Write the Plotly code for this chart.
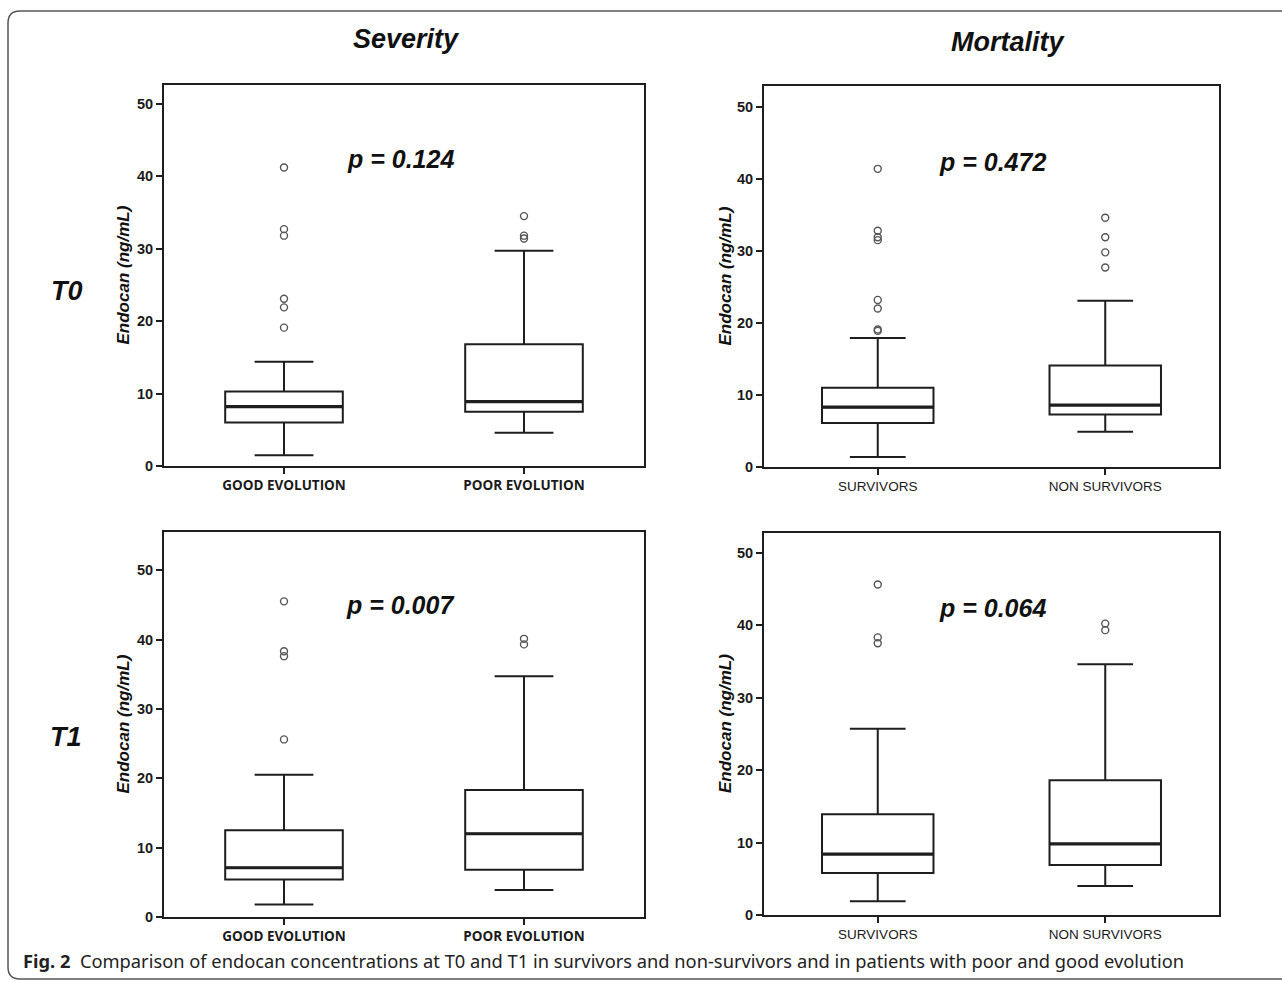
import plotly.graph_objects as go

W, H = 1282, 981          # reference pixel grid
FIG_H = 989               # rendered height (capture compresses vertically by ~981/989)

# ---------------- data ----------------
sev_cats = ["GOOD EVOLUTION", "POOR EVOLUTION"]
mort_cats = ["SURVIVORS", "NON SURVIVORS"]

# T0 - Severity
t0_sev_q1 = [6.0, 7.5]
t0_sev_median = [8.2, 8.9]
t0_sev_q3 = [10.3, 16.8]
t0_sev_low = [1.5, 4.6]
t0_sev_high = [14.4, 29.7]
t0_sev_out_good = [41.2, 32.7, 31.8, 23.1, 21.9, 19.1]
t0_sev_out_poor = [34.5, 31.8, 31.4]

# T0 - Mortality
t0_mort_q1 = [6.1, 7.3]
t0_mort_median = [8.3, 8.6]
t0_mort_q3 = [11.0, 14.1]
t0_mort_low = [1.4, 4.9]
t0_mort_high = [17.9, 23.1]
t0_mort_out_surv = [41.4, 32.8, 31.9, 31.5, 23.2, 22.0, 19.1, 18.9]
t0_mort_out_nonsurv = [34.6, 31.9, 29.8, 27.7]

# T1 - Severity
t1_sev_q1 = [5.4, 6.8]
t1_sev_median = [7.1, 12.0]
t1_sev_q3 = [12.5, 18.3]
t1_sev_low = [1.8, 3.9]
t1_sev_high = [20.5, 34.7]
t1_sev_out_good = [45.5, 38.3, 37.6, 25.6]
t1_sev_out_poor = [40.1, 39.3]

# T1 - Mortality
t1_mort_q1 = [5.8, 6.9]
t1_mort_median = [8.4, 9.8]
t1_mort_q3 = [13.9, 18.6]
t1_mort_low = [1.9, 4.0]
t1_mort_high = [25.7, 34.6]
t1_mort_out_surv = [45.6, 38.3, 37.5]
t1_mort_out_nonsurv = [40.2, 39.3]

p_values = ["p = 0.124", "p = 0.472", "p = 0.007", "p = 0.064"]
y_ticks = [0, 10, 20, 30, 40, 50]

# ---------------- helpers ----------------
def px(x):
    return x / W

def py(y):
    return 1 - y / H

LINE = "#1e1e1e"
BOXW = 0.49

panels = [
    dict(cats=sev_cats, q1=t0_sev_q1, med=t0_sev_median, q3=t0_sev_q3,
         lo=t0_sev_low, hi=t0_sev_high, outs=[t0_sev_out_good, t0_sev_out_poor],
         xdom=(164, 644), ydom=(85, 466), ymax=52.6, pv=p_values[0],
         pxy=(400, 159), ytx=123, xfont="left"),
    dict(cats=mort_cats, q1=t0_mort_q1, med=t0_mort_median, q3=t0_mort_q3,
         lo=t0_mort_low, hi=t0_mort_high, outs=[t0_mort_out_surv, t0_mort_out_nonsurv],
         xdom=(764, 1219), ydom=(86, 467), ymax=52.9, pv=p_values[1],
         pxy=(992, 162), ytx=725, xfont="right"),
    dict(cats=sev_cats, q1=t1_sev_q1, med=t1_sev_median, q3=t1_sev_q3,
         lo=t1_sev_low, hi=t1_sev_high, outs=[t1_sev_out_good, t1_sev_out_poor],
         xdom=(164, 644), ydom=(532, 917), ymax=55.5, pv=p_values[2],
         pxy=(400, 605), ytx=123, xfont="left"),
    dict(cats=mort_cats, q1=t1_mort_q1, med=t1_mort_median, q3=t1_mort_q3,
         lo=t1_mort_low, hi=t1_mort_high, outs=[t1_mort_out_surv, t1_mort_out_nonsurv],
         xdom=(764, 1219), ydom=(533, 915), ymax=52.7, pv=p_values[3],
         pxy=(992, 608), ytx=725, xfont="right"),
]

fig = go.Figure()
annotations = []
layout_axes = {}

for k, p in enumerate(panels):
    n = k + 1
    xa = "x" if n == 1 else f"x{n}"
    ya = "y" if n == 1 else f"y{n}"
    for i in range(len(p["cats"])):
        fig.add_trace(go.Box(
            x=[i], q1=[p["q1"][i]], median=[p["med"][i]], q3=[p["q3"][i]],
            lowerfence=[p["lo"][i]], upperfence=[p["hi"][i]],
            width=BOXW, whiskerwidth=0.5, boxpoints=False,
            fillcolor="white", line=dict(color=LINE, width=2),
            xaxis=xa, yaxis=ya, hoverinfo="skip",
        ))
        # thicker median line
        fig.add_trace(go.Scatter(
            x=[i - BOXW / 2, i + BOXW / 2], y=[p["med"][i], p["med"][i]],
            mode="lines", line=dict(color=LINE, width=3.2),
            xaxis=xa, yaxis=ya, hoverinfo="skip",
        ))
        outs = p["outs"][i]
        fig.add_trace(go.Scatter(
            x=[i] * len(outs), y=outs, mode="markers",
            marker=dict(symbol="circle-open", size=7, color="#555555",
                        line=dict(width=1.4, color="#555555")),
            xaxis=xa, yaxis=ya, hoverinfo="skip",
        ))

    if p["xfont"] == "left":
        xtf = dict(family="Open Sans", size=13.5, color="#1a1a1a", weight="bold")
    else:
        xtf = dict(family="Liberation Sans", size=13.5, color="#1a1a1a")

    xkey = "xaxis" if n == 1 else f"xaxis{n}"
    ykey = "yaxis" if n == 1 else f"yaxis{n}"
    layout_axes[xkey] = dict(
        domain=[px(p["xdom"][0]), px(p["xdom"][1])],
        anchor=ya, range=[-0.5, 1.5],
        tickmode="array", tickvals=[0, 1], ticktext=p["cats"],
        ticks="outside", ticklen=6, tickwidth=1.5, tickcolor=LINE,
        showline=True, mirror=True, linecolor=LINE, linewidth=2,
        showgrid=False, zeroline=False, tickfont=xtf, fixedrange=True,
    )
    layout_axes[ykey] = dict(
        domain=[py(p["ydom"][1]), py(p["ydom"][0])],
        anchor=xa, range=[0, p["ymax"]],
        tickmode="array", tickvals=y_ticks,
        ticks="outside", ticklen=6, tickwidth=1.5, tickcolor=LINE,
        showline=True, mirror=True, linecolor=LINE, linewidth=2,
        showgrid=False, zeroline=False, fixedrange=True,
        tickfont=dict(family="Liberation Sans", size=14.5, color="#1a1a1a", weight="bold"),
    )

    annotations.append(dict(
        text=p["pv"], x=px(p["pxy"][0]), y=py(p["pxy"][1]),
        xref="paper", yref="paper", xanchor="center", yanchor="middle",
        showarrow=False,
        font=dict(family="Liberation Sans", size=25, color="#111", weight="bold", style="italic"),
    ))
    annotations.append(dict(
        text="Endocan (ng/mL)", x=px(p["ytx"]),
        y=py((p["ydom"][0] + p["ydom"][1]) / 2),
        xref="paper", yref="paper", xanchor="center", yanchor="middle",
        textangle=-90, showarrow=False,
        font=dict(family="Liberation Sans", size=17, color="#111", weight="bold", style="italic"),
    ))

# column titles & row labels
for txt, x, y in [("Severity", 406, 39), ("Mortality", 1008, 42)]:
    annotations.append(dict(
        text=txt, x=px(x), y=py(y), xref="paper", yref="paper",
        xanchor="center", yanchor="middle", showarrow=False,
        font=dict(family="Liberation Sans", size=27, color="#111", weight="bold", style="italic"),
    ))
for txt, x, y in [("T0", 67, 291), ("T1", 66, 737)]:
    annotations.append(dict(
        text=txt, x=px(x), y=py(y), xref="paper", yref="paper",
        xanchor="center", yanchor="middle", showarrow=False,
        font=dict(family="Liberation Sans", size=27, color="#111", weight="bold", style="italic"),
    ))

# caption
annotations.append(dict(
    text="<b>Fig. 2</b>  Comparison of endocan concentrations at T0 and T1 in survivors and "
         "non-survivors and in patients with poor and good evolution",
    x=px(21), y=py(960), xref="paper", yref="paper",
    xanchor="left", yanchor="middle", showarrow=False,
    font=dict(family="Noto Sans", size=18.3, color="#222"),
))

# rounded outer frame
x0 = px(8)
yt = py(11)
yb = py(979)
rx = 12 / W
ry = 12 / H
frame_path = (f"M {1.02},{yb} L {x0 + rx},{yb} Q {x0},{yb} {x0},{yb + ry} "
              f"L {x0},{yt - ry} Q {x0},{yt} {x0 + rx},{yt} L {1.02},{yt}")

fig.update_layout(
    width=W, height=FIG_H,
    margin=dict(l=0, r=0, t=0, b=0),
    paper_bgcolor="white", plot_bgcolor="white",
    showlegend=False,
    annotations=annotations,
    shapes=[dict(type="path", path=frame_path, xref="paper", yref="paper",
                 line=dict(color="#555555", width=1.5))],
    **layout_axes,
)

fig.write_html("out.html", config={"displayModeBar": False},
               post_script="document.body.style.margin='0';document.body.style.overflow='hidden';")
